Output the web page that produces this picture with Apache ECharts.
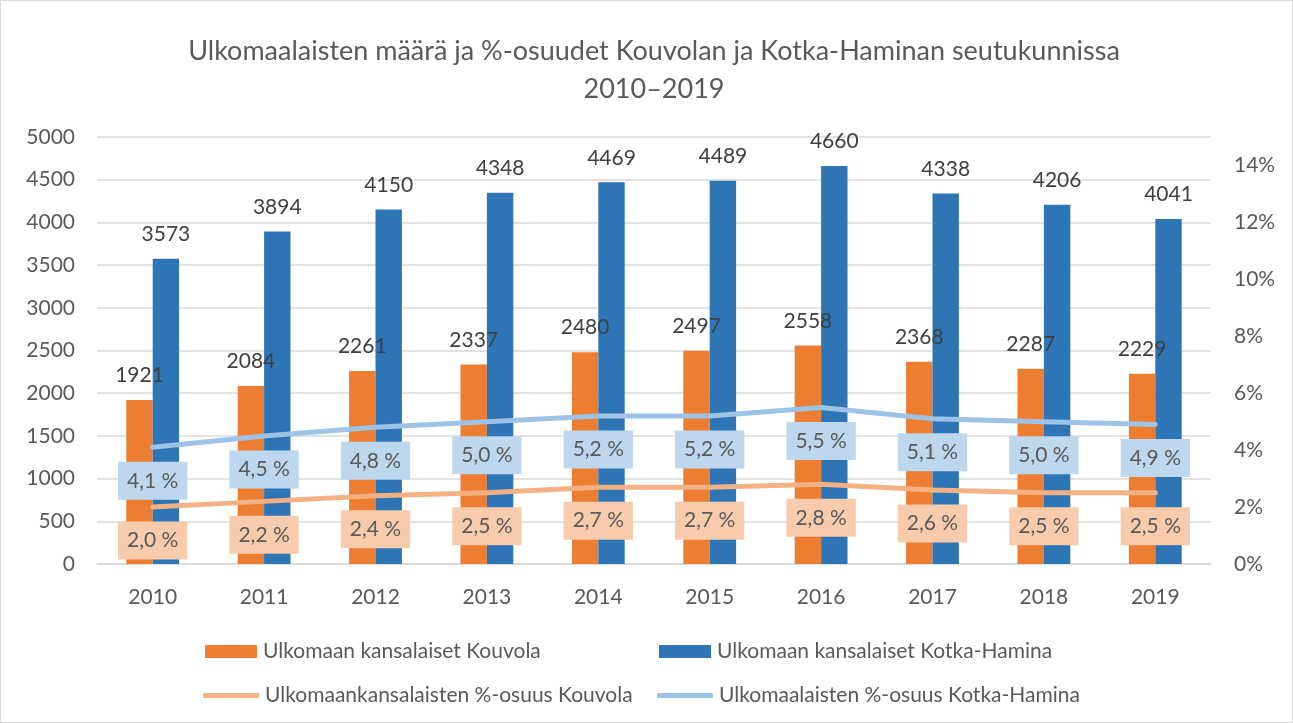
<!DOCTYPE html>
<html lang="fi">
<head>
    <meta charset="UTF-8">
    <title>Ulkomaalaiset Kouvola ja Kotka-Hamina</title>
    <script src="https://cdn.jsdelivr.net/npm/echarts@6/dist/echarts.min.js"></script>
    <style>
        html, body { margin: 0; padding: 0; background: #fff; }
        #main { width: 1291px; height: 721px; border: 1px solid #d9d9d9; }
    </style>
</head>
<body>
<div id="main"></div>
<script>
    // vuodet
    var years = ['2010', '2011', '2012', '2013', '2014', '2015', '2016', '2017', '2018', '2019'];
    // ulkomaan kansalaiset (lkm)
    var kouvolaCount = [1921, 2084, 2261, 2337, 2480, 2497, 2558, 2368, 2287, 2229];
    var kotkaCount = [3573, 3894, 4150, 4348, 4469, 4489, 4660, 4338, 4206, 4041];
    // %-osuudet
    var kouvolaShare = [2.0, 2.2, 2.4, 2.5, 2.7, 2.7, 2.8, 2.6, 2.5, 2.5];
    var kotkaShare = [4.1, 4.5, 4.8, 5.0, 5.2, 5.2, 5.5, 5.1, 5.0, 4.9];

    var names = ['Ulkomaan kansalaiset Kouvola', 'Ulkomaan kansalaiset Kotka-Hamina',
        'Ulkomaankansalaisten %-osuus Kouvola', 'Ulkomaalaisten %-osuus Kotka-Hamina'];

    var font = 'Lato';
    var txt = '#595959';

    function legendItem(name, left, top, isLine) {
        return {
            data: [name],
            left: left,
            top: top,
            padding: 0,
            icon: isLine ? 'roundRect' : 'rect',
            itemWidth: isLine ? 56 : 52,
            itemHeight: isLine ? 5 : 13,
            itemGap: 0,
            textStyle: { color: txt, fontSize: 21, fontFamily: font, padding: [0, 0, 0, 1] }
        };
    }

    function pctLabel(bg) {
        return {
            show: true,
            position: 'bottom',
            distance: 14,
            formatter: function (p) { return p.value.toFixed(1).replace('.', ',') + ' %'; },
            color: txt,
            fontSize: 21,
            fontFamily: font,
            backgroundColor: bg,
            padding: [7, 9, 7, 9],
            lineHeight: 24
        };
    }

    var myChart = echarts.init(document.getElementById('main'));
    var option = {
        title: {
            text: 'Ulkomaalaisten määrä ja %-osuudet Kouvolan ja Kotka-Haminan seutukunnissa\n2010–2019',
            left: 648,
            top: 26,
            textAlign: 'center',
            textStyle: { color: txt, fontSize: 27, fontWeight: 'normal', fontFamily: font, lineHeight: 38 }
        },
        legend: [
            legendItem(names[0], 204, 640, false),
            legendItem(names[1], 658, 640, false),
            legendItem(names[2], 202, 684, true),
            legendItem(names[3], 656, 684, true)
        ],
        grid: { left: 96, right: 81, top: 136, bottom: 158 },
        xAxis: {
            type: 'category',
            data: years,
            axisLine: { lineStyle: { color: '#d9d9d9', width: 1.5 } },
            axisTick: { show: false },
            axisLabel: { color: txt, fontSize: 21, fontFamily: font, margin: 23 }
        },
        yAxis: [
            {
                type: 'value',
                min: 0,
                max: 5000,
                interval: 500,
                axisLine: { show: false },
                axisTick: { show: false },
                splitLine: { lineStyle: { color: '#d9d9d9', width: 1.5 } },
                axisLabel: {
                    color: txt, fontSize: 21, fontFamily: font, margin: 22,
                    formatter: function (v) { return String(v); }
                }
            },
            {
                type: 'value',
                min: 0,
                max: 15,
                interval: 2,
                axisLine: { show: false },
                axisTick: { show: false },
                splitLine: { show: false },
                axisLabel: {
                    color: txt, fontSize: 21, fontFamily: font, margin: 23, showMaxLabel: false,
                    formatter: function (v) { return v + '%'; }
                }
            }
        ],
        series: [
            {
                name: names[0],
                type: 'bar',
                data: kouvolaCount,
                barWidth: '23.7%',
                barGap: '0%',
                itemStyle: { color: '#ED7D31' },
                label: { show: true, position: 'top', distance: 14, color: '#404040', fontSize: 21, fontFamily: font }
            },
            {
                name: names[1],
                type: 'bar',
                data: kotkaCount,
                barWidth: '23.7%',
                barGap: '0%',
                itemStyle: { color: '#2E75B6' },
                label: { show: true, position: 'top', distance: 14, color: '#404040', fontSize: 21, fontFamily: font }
            },
            {
                name: names[2],
                type: 'line',
                yAxisIndex: 1,
                data: kouvolaShare,
                symbol: 'circle',
                symbolSize: 1,
                lineStyle: { color: '#F4B183', width: 5, cap: 'round' },
                itemStyle: { color: '#F4B183' },
                label: pctLabel('#F8CBAD'),
                z: 5
            },
            {
                name: names[3],
                type: 'line',
                yAxisIndex: 1,
                data: kotkaShare,
                symbol: 'circle',
                symbolSize: 1,
                lineStyle: { color: '#9DC3E6', width: 5, cap: 'round' },
                itemStyle: { color: '#9DC3E6' },
                label: pctLabel('#BDD7EE'),
                z: 5
            }
        ]
    };
    myChart.setOption(option);
</script>
</body>
</html>
